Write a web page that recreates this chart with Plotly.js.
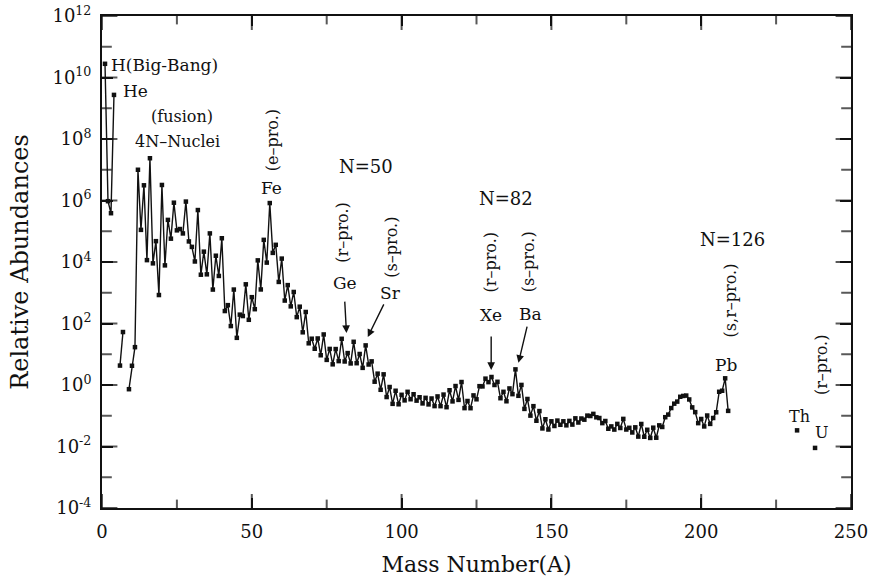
<!DOCTYPE html>
<html>
<head>
<meta charset="utf-8">
<script src="https://cdn.plot.ly/plotly-3.0.1.min.js"></script>
<style>html,body{margin:0;padding:0;background:#fff;}#chart{width:876px;height:588px;}</style>
</head>
<body>
<div id="chart"></div>
<script>
// Hydrogen / helium isotopes (A = 1..4)
var lightA = [1, 2, 3, 4];
var lightY = [2.79e10, 9.5e5, 3.86e5, 2.72e9];
// Lithium isotopes
var liA = [6, 7];
var liY = [4.28, 52.8];
// Main sequence A = 9 .. 209
var mainStartA = 9;
var mainY = [
  0.73, 4.22, 17.0, 9.99e6, 1.11e5, 3.12e6, 1.15e4, 2.37e7, 9.04e3, 4.76e4,   // 9-18
  843, 3.2e6, 7.77e3, 2.34e5, 5.74e4, 8.48e5, 1.07e5, 1.18e5, 8.49e4, 9.22e5, // 19-28
  4.67e4, 3.1e4, 1.04e4, 4.89e5, 3.86e3, 2.17e4, 3.97e3, 8.51e4, 1.27e3, 1.6e4, // 29-38
  3.52e3, 5.92e4, 254, 395, 82.5, 1270, 34.2, 194, 175, 1880,                  // 39-48
  132, 718, 292, 1.13e4, 1280, 5.25e4, 9550, 8.25e5, 1.98e4, 3.62e4,           // 49-58
  2250, 1.29e4, 557, 1770, 361, 1060, 161, 352, 51.7, 237,                     // 59-68
  22.7, 32.0, 15.1, 32.6, 9.28, 44.0, 6.56, 14.9, 4.7, 14.75,                  // 69-78
  5.98, 31.8, 5.82, 10.9, 5.03, 25.4, 5.12, 10.2, 3.61, 19.4,                  // 79-88
  4.64, 5.87, 1.28, 2.34, 0.698, 2.22, 0.406, 0.86, 0.244, 0.65,               // 89-98
  0.236, 0.48, 0.316, 0.60, 0.344, 0.50, 0.310, 0.40, 0.252, 0.382,            // 99-108
  0.234, 0.364, 0.206, 0.425, 0.205, 0.488, 0.19, 0.676, 0.293, 0.925,         // 109-118
  0.328, 1.25, 0.177, 0.302, 0.176, 0.459, 0.343, 0.917, 0.90, 1.61,           // 119-128
  1.24, 1.82, 1.0, 1.27, 0.372, 0.60, 0.296, 0.773, 0.504, 3.22,               // 129-138
  0.445, 1.005, 0.167, 0.351, 0.101, 0.205, 0.0687, 0.142, 0.0387, 0.077,      // 139-148
  0.0357, 0.066, 0.0465, 0.0696, 0.0508, 0.066, 0.0488, 0.068, 0.0516, 0.0824, // 149-158
  0.0603, 0.0813, 0.0745, 0.101, 0.098, 0.115, 0.0889, 0.0843, 0.0576, 0.0675, // 159-168
  0.0378, 0.045, 0.0355, 0.0543, 0.040, 0.079, 0.0357, 0.0405, 0.0286, 0.042,  // 169-178
  0.021, 0.054, 0.0207, 0.035, 0.019, 0.0409, 0.0193, 0.0487, 0.0432, 0.0898,  // 179-188
  0.109, 0.178, 0.247, 0.288, 0.414, 0.441, 0.453, 0.339, 0.187, 0.131,        // 189-198
  0.0575, 0.0785, 0.0449, 0.1017, 0.0543, 0.0845, 0.1297, 0.602, 0.650, 1.648, // 199-208
  0.144                                                                        // 209
];
// Actinides (isolated points)
var actA = [232, 238];
var actY = [0.0335, 0.0090];

// tick labels
var xTickVals = [0, 50, 100, 150, 200, 250];
var xMinorVals = [25, 75, 125, 175, 225];
var yExps = [-4, -2, 0, 2, 4, 6, 8, 10, 12];
var yMinorExps = [-3, -1, 1, 3, 5, 7, 9, 11];

var mainA = [];
for (var i = 0; i < mainY.length; i++) mainA.push(mainStartA + i);

var FONT = 'DejaVu Serif, Liberation Serif, serif';
var INK = '#111';
var X_RANGE = [0, 250];
var Y_EXP_RANGE = [-4, 12];
var lineStyle = {color: INK, width: 1.4};
var markerStyle = {symbol: 'square', size: 4.5, color: INK};

var yTickVals = yExps.map(function (e) { return Math.pow(10, e); });
var yTickText = yExps.map(function (e) { return '10<sup>' + e + '</sup>'; });
var yMinorVals = yMinorExps.map(function (e) { return Math.pow(10, e); });

function seg(x, y) {
  return {x: x, y: y, type: 'scatter', mode: 'lines+markers', line: lineStyle,
          marker: markerStyle, showlegend: false, hoverinfo: 'x+y'};
}

// Tick marks on all four frame sides: line markers centred on the frame,
// the outer half is clipped by the plot area so only the inside half shows.
var yBottom = Math.pow(10, Y_EXP_RANGE[0]), yTop = Math.pow(10, Y_EXP_RANGE[1]);
var xtX = [], xtY = [], xtS = [];
xTickVals.forEach(function (v) { xtX.push(v, v); xtY.push(yBottom, yTop); xtS.push(20, 20); });
xMinorVals.forEach(function (v) { xtX.push(v, v); xtY.push(yBottom, yTop); xtS.push(12, 12); });
var ytX = [], ytY = [], ytS = [];
yTickVals.forEach(function (v) { ytX.push(X_RANGE[0], X_RANGE[1]); ytY.push(v, v); ytS.push(22, 22); });
yMinorVals.forEach(function (v) { ytX.push(X_RANGE[0], X_RANGE[1]); ytY.push(v, v); ytS.push(14, 14); });

var traces = [
  seg(lightA, lightY),
  seg(liA, liY),
  seg(mainA, mainY),
  {x: actA, y: actY, type: 'scatter', mode: 'markers', marker: markerStyle, showlegend: false},
  {x: xtX, y: xtY, type: 'scatter', mode: 'markers', cliponaxis: true, showlegend: false, hoverinfo: 'skip',
   marker: {symbol: 'line-ns-open', size: xtS, color: INK, line: {color: INK, width: 2}}},
  {x: ytX, y: ytY, type: 'scatter', mode: 'markers', cliponaxis: true, showlegend: false, hoverinfo: 'skip',
   marker: {symbol: 'line-ew-open', size: ytS, color: INK, line: {color: INK, width: 2}}}
];

function txt(t, x, ly, size, angle) {
  return {text: t, x: x, y: ly, xref: 'x', yref: 'y', showarrow: false,
          font: {family: FONT, size: size, color: INK}, textangle: angle || 0};
}
function arrow(x, ly, ax, aly) {
  return {text: '', x: x, y: ly, ax: ax, ay: aly, xref: 'x', yref: 'y', axref: 'x', ayref: 'y',
          showarrow: true, arrowhead: 2, arrowsize: 1.1, arrowwidth: 1.4, arrowcolor: INK, standoff: 0};
}

var annotations = [
  Object.assign(txt('H(Big-Bang)', 2.4, 10.41, 17), {xanchor: 'left'}),
  txt('He', 11.3, 9.56, 17),
  txt('(fusion)', 26.7, 8.72, 16),
  txt('4N\u2013Nuclei', 25.3, 7.93, 16),
  txt('(e\u2013pro.)', 57, 7.95, 16, -90),
  txt('Fe', 56.7, 6.41, 17),
  txt('N=50', 88, 7.09, 18),
  txt('(r\u2013pro.)', 80.3, 4.94, 16, -90),
  txt('Ge', 81, 3.32, 17),
  txt('(s\u2013pro.)', 96.7, 4.49, 16, -90),
  txt('Sr', 96.3, 2.99, 17),
  txt('N=82', 134.7, 6.05, 18),
  txt('(r\u2013pro.)', 129.7, 3.97, 16, -90),
  txt('Xe', 129.7, 2.28, 17),
  txt('(s\u2013pro.)', 142.3, 4.0, 16, -90),
  txt('Ba', 143, 2.31, 17),
  txt('N=126', 210.3, 4.72, 18),
  txt('(s,r\u2013pro.)', 209.7, 2.76, 16, -90),
  txt('Pb', 208.3, 0.65, 17),
  txt('(r\u2013pro.)', 240, 0.65, 16, -90),
  txt('Th', 232.7, -1.04, 16),
  txt('U', 240, -1.56, 16),
  arrow(81.6, 1.69, 81.0, 2.76),
  arrow(88.7, 1.56, 94.3, 2.67),
  arrow(129.9, 0.49, 129.9, 1.63),
  arrow(139.0, 0.72, 142.0, 1.95)
];

var layout = {
  width: 876, height: 588,
  margin: {l: 102, r: 25, t: 16, b: 80},
  paper_bgcolor: '#fff', plot_bgcolor: '#fff',
  font: {family: FONT, color: INK},
  showlegend: false,
  xaxis: {
    range: X_RANGE, showgrid: false, zeroline: false,
    showline: true, linecolor: INK, linewidth: 2, mirror: 'ticks',
    ticks: 'inside', ticklen: 10, tickwidth: 2, tickcolor: INK,
    tickmode: 'array', tickvals: xTickVals, ticklabelstandoff: 6,
    tickfont: {family: FONT, size: 18, color: INK},
    title: {text: 'Mass Number(A)', font: {family: FONT, size: 22, color: INK}, standoff: 16}
  },
  yaxis: {
    type: 'log', range: Y_EXP_RANGE, showgrid: false, zeroline: false,
    showline: true, linecolor: INK, linewidth: 2, mirror: 'ticks',
    ticks: 'inside', ticklen: 11, tickwidth: 2, tickcolor: INK,
    tickmode: 'array', tickvals: yTickVals, ticktext: yTickText, ticklabelstandoff: 5,
    tickfont: {family: FONT, size: 18, color: INK},
    title: {text: 'Relative Abundances', font: {family: FONT, size: 24, color: INK}, standoff: 17}
  },
  annotations: annotations
};

Plotly.newPlot('chart', traces, layout, {displayModeBar: false});
</script>
</body>
</html>
